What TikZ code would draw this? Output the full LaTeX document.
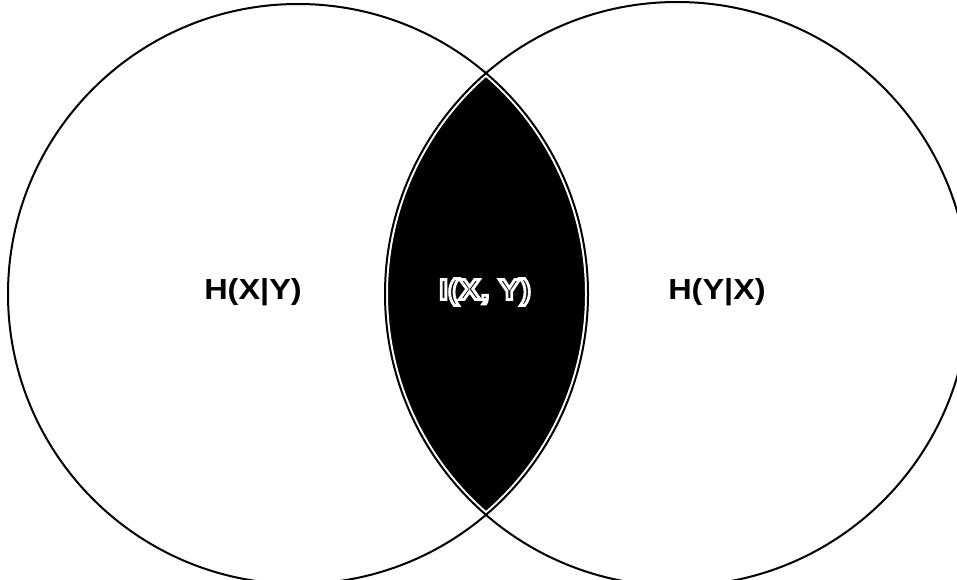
\documentclass[tikz,border=0pt]{standalone}
\usepackage{fontspec}
\newfontfamily\lblfont{Liberation Sans}[FakeStretch=1.12]
\usepackage{tikz}
\usetikzlibrary{positioning}
\newcommand\hollowtext[1]{\special{pdf:literal direct q 2 Tr 2.8 w 1 1 1 RG 0 0 0 rg}#1\special{pdf:literal direct Q}}
\tikzset{
  venn/.style ={draw=black, line width=2pt},
  gap/.style  ={draw=white, line width=6pt},
  lbl/.style  ={font=\lblfont\bfseries\fontsize{29}{32}\selectfont, inner sep=0pt}
}
\begin{document}
\begin{tikzpicture}[x=1pt, y=-1pt]
  \useasboundingbox (0,0) rectangle (957,580);
  \coordinate (cx) at (298,294);
  \coordinate (cy) at (677,294);
  % shared part
  \begin{scope}
    \clip (cx) circle[radius=290pt];
    \fill[black] (cy) circle[radius=292pt];
    \clip (cy) circle[radius=292pt];
    \draw[gap] (cx) circle[radius=290pt];
    \draw[gap] (cy) circle[radius=292pt];
  \end{scope}
  \draw[venn] (cx) circle[radius=290pt];
  \draw[venn] (cy) circle[radius=292pt];
  % labels
  \node[lbl] (hxy) at (253,292) {H(X|Y)};
  \node[lbl] (hyx) at (717,292) {H(Y|X)};
  \node[lbl] (ixy) at (485,292) {\hollowtext{I(X, Y)}};
\end{tikzpicture}
\end{document}
